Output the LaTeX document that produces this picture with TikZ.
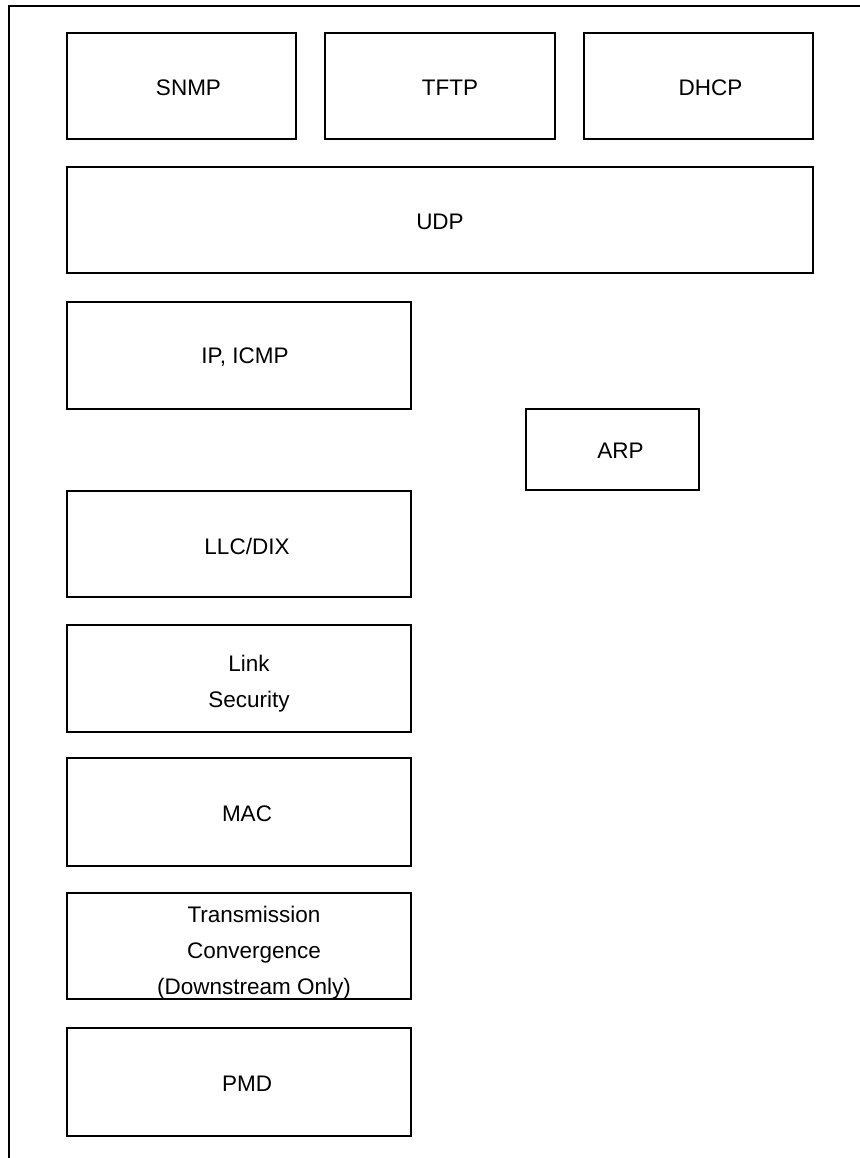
\documentclass[tikz,border=0pt]{standalone}
\usepackage{fontspec}
\setmainfont{Liberation Sans}
\tikzset{
  layer/.style={draw=black, line width=2.6pt, inner sep=0pt},
  lbl/.style={font=\fontsize{22.5}{36}\selectfont, align=center, inner sep=0pt},
  frame/.style={draw=black, line width=2.6pt}
}
\newcommand\mybox[5]{%
  \node[layer, minimum width={(#3)-(#2)}, minimum height={(#5)-(#4)}] (#1)
    at ({((#2)+(#3))/2},{((#4)+(#5))/2}) {};}
\begin{document}
\begin{tikzpicture}[x=1pt,y=-1pt]
\useasboundingbox (0,0) rectangle (859,1158);
\coordinate (fbl) at (9,1170);
\coordinate (ftl) at (9,6);
\coordinate (ftr) at (870,6);
\draw[frame] (fbl) -- (ftl) -- (ftr);
\mybox{snmp}{67}{296}{33}{139}
\mybox{tftp}{325}{555}{33}{139}
\mybox{dhcp}{584}{813}{33}{139}
\mybox{udp}{67}{813}{167}{273}
\mybox{ip}{67}{411}{302}{409}
\mybox{arp}{526}{699}{409}{490}
\mybox{llc}{67}{411}{491}{597}
\mybox{ls}{67}{411}{625}{732}
\mybox{mac}{67}{411}{758}{866}
\mybox{tc}{67}{411}{893}{999}
\mybox{pmd}{67}{411}{1028}{1136}
\node[lbl] (tsnmp) at ([xshift=7pt,yshift=-2pt]snmp.center) {SNMP};
\node[lbl] (ttftp) at ([xshift=10pt,yshift=-2pt]tftp.center) {TFTP};
\node[lbl] (tdhcp) at ([xshift=12pt,yshift=-2pt]dhcp.center) {DHCP};
\node[lbl] (tudp) at ([yshift=-2pt]udp.center) {UDP};
\node[lbl] (tip) at ([xshift=6pt,yshift=-2pt]ip.center) {IP, ICMP};
\node[lbl] (tarp) at ([xshift=8pt,yshift=-1pt]arp.center) {ARP};
\node[lbl] (tllc) at ([xshift=8pt,yshift=-2pt]llc.center) {LLC/DIX};
\node[lbl] (tls) at ([xshift=10pt,yshift=-5pt]ls.center) {Link\\Security};
\node[lbl] (tmac) at ([xshift=8pt,yshift=-2pt]mac.center) {MAC};
\node[lbl] (ttc) at ([xshift=15pt,yshift=-7pt]tc.center) {Transmission\\Convergence\\(Downstream Only)};
\node[lbl] (tpmd) at ([xshift=8pt,yshift=-2pt]pmd.center) {PMD};
\end{tikzpicture}
\end{document}
